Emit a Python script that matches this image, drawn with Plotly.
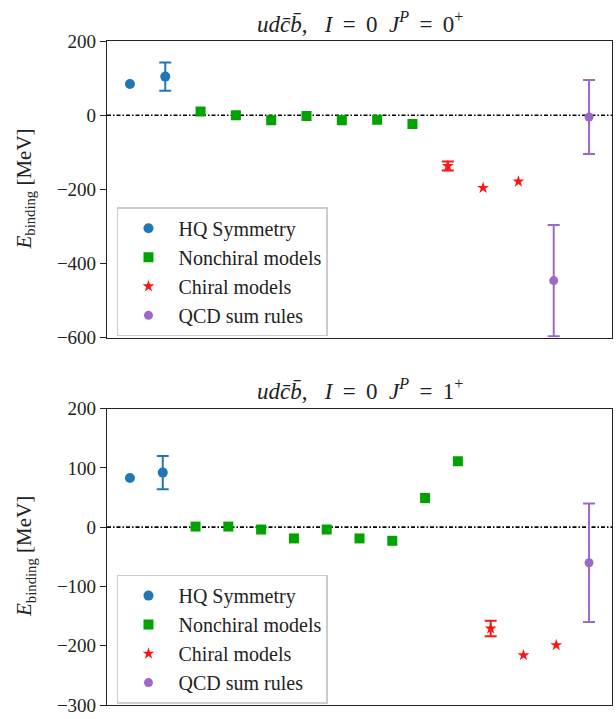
import plotly.graph_objects as go
from plotly.subplots import make_subplots

# ---------------- data ----------------
# Panel 1: J^P = 0+
hq_x0 = [0, 1]
hq_y0 = [84, 104]
hq_e0 = [None, 38]
nc_x0 = [2, 3, 4, 5, 6, 7, 8]
nc_y0 = [10, 0, -14, -2, -14, -12, -24]
ch_x0 = [9, 10, 11]
ch_y0 = [-137, -196, -179]
ch_e0 = [12, None, None]
qcd_x0 = [12, 13]
qcd_y0 = [-446, -5]
qcd_e0 = [150, 100]

# Panel 2: J^P = 1+
hq_x1 = [0, 1]
hq_y1 = [83, 92]
hq_e1 = [None, 28]
nc_x1 = [2, 3, 4, 5, 6, 7, 8, 9, 10]
nc_y1 = [1, 1, -4, -19, -4, -19, -23, 49, 111]
ch_x1 = [11, 12, 13]
ch_y1 = [-171, -216, -199]
ch_e1 = [13, None, None]
qcd_x1 = [14]
qcd_y1 = [-60]
qcd_e1 = [100]

names = ["HQ Symmetry", "Nonchiral models", "Chiral models", "QCD sum rules"]
sp = "\u00a0"
th = "\u2009"
eq = f"{sp}{th}={sp}{th}"
titles = [f"<i>udc̄b̄</i>,{sp*3}<i>I</i>{eq}0{sp*2}<i>J</i><sup><i>P</i></sup>{eq}0<sup>+</sup>",
          f"<i>udc̄b̄</i>,{sp*3}<i>I</i>{eq}0{sp*2}<i>J</i><sup><i>P</i></sup>{eq}1<sup>+</sup>"]
yticks0 = [-600, -400, -200, 0, 200]
yticks1 = [-300, -200, -100, 0, 100, 200]

# --------------- style ---------------
FONT = "Liberation Serif"
C_HQ = "#1f77b4"
C_NC = "#00a300"
C_CH = "#ff1414"
C_QCD = "#9d68c6"

W, H = 616, 719
fig = make_subplots(rows=2, cols=1, vertical_spacing=0.1066)


def add_series(row, legend, idx, x, y, err, color, symbol, size):
    with_e = [i for i, e in enumerate(err) if e is not None] if err is not None else []
    without = [i for i in range(len(x)) if i not in with_e]
    first = True
    for sel, has_err in ((without, False), (with_e, True)):
        if not sel:
            continue
        kw = {}
        if has_err:
            kw["error_y"] = dict(type="data", array=[err[i] for i in sel], color=color,
                                 thickness=2, width=6)
        fig.add_trace(go.Scatter(x=[x[i] for i in sel], y=[y[i] for i in sel], mode="markers",
                                 name=names[idx], legend=legend, legendgroup=f"{legend}{idx}",
                                 showlegend=first,
                                 marker=dict(color=color, size=size, symbol=symbol), **kw),
                      row=row, col=1)
        first = False


def add_panel(row, legend, hx, hy, he, nx, ny, cx, cy, ce, qx, qy, qe):
    add_series(row, legend, 0, hx, hy, he, C_HQ, "circle", 10)
    add_series(row, legend, 1, nx, ny, None, C_NC, "square", 10)
    add_series(row, legend, 2, cx, cy, ce, C_CH, "star", 9)
    add_series(row, legend, 3, qx, qy, qe, C_QCD, "circle", 9)


add_panel(1, "legend", hq_x0, hq_y0, hq_e0, nc_x0, nc_y0, ch_x0, ch_y0, ch_e0, qcd_x0, qcd_y0, qcd_e0)
add_panel(2, "legend2", hq_x1, hq_y1, hq_e1, nc_x1, nc_y1, ch_x1, ch_y1, ch_e1, qcd_x1, qcd_y1, qcd_e1)

plot_top, plot_bot = 41, 711.7
ph = plot_bot - plot_top
d1 = [(plot_bot - 340.7) / ph, 1.0]
d2 = [0.0, (plot_bot - 412.3) / ph]

axcommon = dict(showgrid=False, zeroline=False, mirror=True, showline=True,
                linecolor="#222", linewidth=1.2)
fig.update_xaxes(axcommon, showticklabels=False, ticks="")
fig.update_yaxes(axcommon, ticks="outside", ticklen=6, tickwidth=1.2, tickcolor="#222",
                 tickfont=dict(family=FONT, size=19, color="#222"))
fig.update_xaxes(range=[-0.65, 13.65], row=1, col=1)
fig.update_xaxes(range=[-0.7, 14.7], row=2, col=1)
fig.update_yaxes(range=[-600, 200], tickvals=yticks0, domain=d1, row=1, col=1)
fig.update_yaxes(range=[-300, 200], tickvals=yticks1, domain=d2, row=2, col=1)

for xr, yr in (("x domain", "y"), ("x2 domain", "y2")):
    fig.add_shape(type="line", xref=xr, yref=yr, x0=0, x1=1, y0=0, y1=0,
                  line=dict(color="black", width=1.6, dash="4px,2px,1.5px,2px"), layer="below")

ann = []
for i, (yr, tcy) in enumerate([("y domain", 22), ("y2 domain", 393)]):
    ann.append(dict(text=titles[i], xref="x domain" if i == 0 else "x2 domain", x=0.5,
                    yref="paper", y=(plot_bot - tcy) / ph, xanchor="center", yanchor="middle",
                    showarrow=False, font=dict(family=FONT, size=23, color="#222")))
    ann.append(dict(text="<i>E</i><sub>binding</sub> [MeV]", textangle=-90,
                    xref="paper", x=(25 - 107) / 506, xanchor="center",
                    yref=yr, y=0.5, yanchor="middle", showarrow=False,
                    font=dict(family=FONT, size=21, color="#222")))

leg = dict(xref="paper", yref="paper", xanchor="left", yanchor="top",
           bgcolor="rgba(255,255,255,0.85)", bordercolor="#cccccc", borderwidth=1.5,
           font=dict(family=FONT, size=20, color="#222"), itemwidth=50, tracegroupgap=0)

fig.update_layout(
    width=W, height=H,
    margin=dict(l=107, r=3, t=plot_top, b=H - plot_bot),
    plot_bgcolor="white", paper_bgcolor="white",
    annotations=ann,
    legend=dict(leg, x=(117 - 107) / 506, y=(plot_bot - 209) / ph),
    legend2=dict(leg, x=(117 - 107) / 506, y=(plot_bot - 580) / ph),
)

fig.write_html("out.html")
